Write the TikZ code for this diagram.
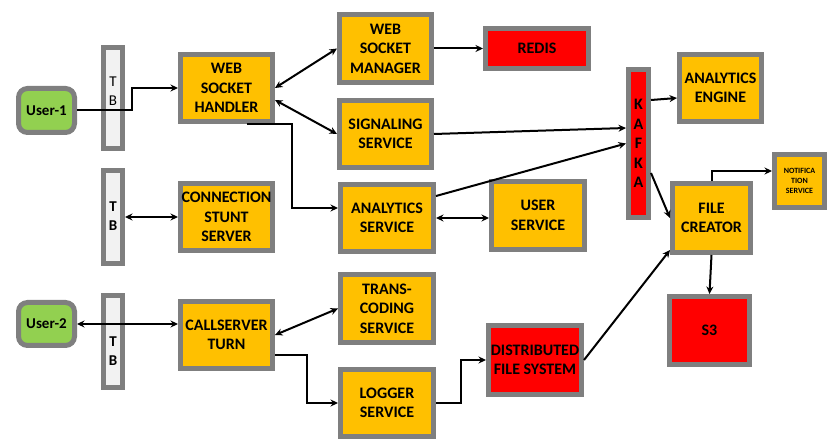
\documentclass[tikz,border=0pt]{standalone}
\usepackage{fontspec}
\setmainfont{Carlito}
\usetikzlibrary{arrows.meta,calc}
\definecolor{bgray}{HTML}{7F7F7F}
\definecolor{byellow}{HTML}{FFC000}
\definecolor{bred}{HTML}{FF0000}
\definecolor{bgreen}{HTML}{92D050}
\definecolor{tbfill}{HTML}{F2F2F2}
\begin{document}
\begin{tikzpicture}[x=1pt,y=-1pt,
  box/.style={draw=bgray,line width=5pt,fill=byellow,align=center,inner sep=0pt,text=black,
    font=\bfseries\fontsize{16}{19.5}\selectfont},
  redbox/.style={box,fill=bred},
  userbox/.style={box,fill=bgreen,rounded corners=9pt,font=\bfseries\fontsize{15}{19}\selectfont},
  tbbox/.style={box,fill=tbfill},
  tbtext/.style={align=center,inner sep=0pt,font=\bfseries\fontsize{15}{19}\selectfont},
  sz/.style 2 args={minimum width={#1pt-5pt},minimum height={#2pt-5pt}},
  conn/.style={line width=2pt,-{Stealth[length=7.5pt,width=7pt]}},
  bi/.style={line width=2pt,{Stealth[length=7.5pt,width=7pt]}-{Stealth[length=7.5pt,width=7pt]}}]
\useasboundingbox (0,0) rectangle (828,446);

% left column
\node[userbox,sz={61}{49}] (user1) at (46.5,110.5) {User-1};
\node[userbox,sz={61}{48}] (user2) at (46.5,324) {User-2};
\node[tbbox,sz={24}{106}] (tb1) at (113,98) {};
\node[tbtext,font=\fontsize{15}{19}\selectfont] (tb1t) at (113,91.5) {T\\B};
\node[tbbox,sz={24}{98}] (tb2) at (113,217) {};
\node[tbtext] (tb2t) at (113,216) {T\\B};
\node[tbbox,sz={24}{97}] (tb3) at (113,341.5) {};
\node[tbtext] (tb3t) at (113,351.5) {T\\B};

\node[box,sz={97}{72}] (wsh) at (226.5,88) {WEB\\SOCKET\\HANDLER};
\node[box,sz={97}{72}] (css) at (226.5,217) {CONNECTION\\STUNT\\SERVER};
\node[box,sz={97}{72}] (cst) at (226.5,335) {CALLSERVER\\TURN};

% middle
\node[box,sz={97}{73}] (wsm) at (385.5,48.5) {WEB\\SOCKET\\MANAGER};
\node[redbox,sz={108}{45}] (redis) at (537,48.5) {REDIS};
\node[box,sz={97}{72}] (sig) at (385.5,134) {SIGNALING\\SERVICE};
\node[box,sz={98}{72}] (ans) at (387,218) {ANALYTICS\\SERVICE};
\node[box,sz={98}{73}] (usr) at (538,215.5) {USER\\SERVICE};
\node[box,sz={98}{73}] (trans) at (387,308.5) {TRANS-\\CODING\\SERVICE};
\node[box,sz={98}{72}] (logger) at (387,403) {LOGGER\\SERVICE};
\node[redbox,sz={98}{74}] (dfs) at (535,360) {DISTRIBUTED\\FILE SYSTEM};

% right
\node[redbox,sz={25}{153}] (kafka) at (638.5,143.5) {K\\A\\F\\K\\A};
\node[box,sz={87}{72}] (ae) at (720.5,88) {ANALYTICS\\ENGINE};
\node[box,sz={55}{58},font=\bfseries\fontsize{8}{10}\selectfont] (notif) at (799.5,181) {NOTIFICA\\TION\\SERVICE};
\node[box,sz={83}{74}] (fc) at (711.5,218) {FILE\\CREATOR};
\node[redbox,sz={85}{73}] (s3) at (709.5,330.5) {S3};

% connectors
\draw[conn] (user1.east) -- ++(55,0) |- (wsh.west);
\draw[bi] (tb2.east) -- (css.west);
\draw[bi] (user2.east) -- (user2.east -| cst.west);
\draw[bi] (wsh.east) -- (wsm.west);
\draw[bi] ([yshift=-12pt]wsh.east) -- (sig.west);
\draw[conn] (wsm.east) -- (redis.west);
\draw[conn] ([xshift=20pt]wsh.south) -- ++(45.5,0) |- ([yshift=10pt]ans.west);
\draw[conn] (sig.east) -- ([yshift=15.5pt]kafka.west);
\draw[conn] ([yshift=22pt]ans.east) -- (kafka.west);
\draw[bi] (ans.east) -- (ans.east -| usr.west);
\draw[conn] ([yshift=43.5pt]kafka.east) -- ([yshift=-10pt]ae.west);
\draw[conn] ([yshift=-29.5pt]kafka.east) -- (fc.west);
\draw[conn] (fc.north) |- ([yshift=10pt]notif.west);
\draw[conn] (fc.south) -- (s3.north);
\draw[bi] (cst.east) -- (trans.west);
\draw[conn] ([yshift=-20pt]cst.east) -- ++(32,0) |- (logger.west);
\draw[conn] (logger.east) -- ++(25,0) |- (dfs.west);
\draw[conn] (dfs.east) -- ([yshift=5pt]fc.south west);
\end{tikzpicture}
\end{document}
